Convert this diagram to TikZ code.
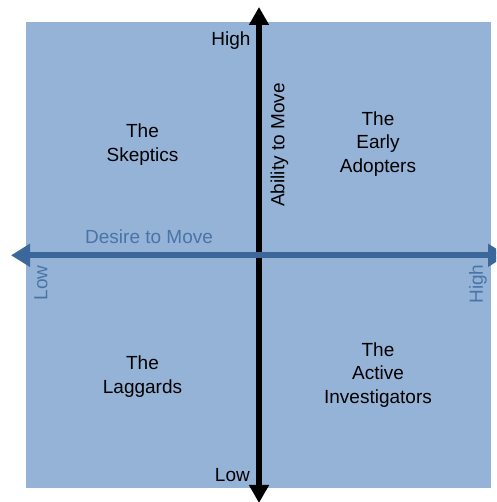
\documentclass[tikz,border=0pt]{standalone}
\usepackage{fontspec}
\setmainfont{Liberation Sans}
\usetikzlibrary{arrows.meta,positioning}
\definecolor{quadfill}{HTML}{95B3D7}
\definecolor{desireblue}{HTML}{3B679B}
\definecolor{desiretext}{HTML}{4A74A8}

\begin{document}
\begin{tikzpicture}[x=1pt, y=1pt, font=\fontsize{19}{23.5}\selectfont,
  every node/.style={align=center,inner sep=0pt},
  ability/.style={line width=6pt, black, {Triangle[length=18pt,width=19pt]}-{Triangle[length=18pt,width=19pt]}},
  desire/.style={line width=6pt, desireblue, {Triangle[length=19pt,width=22pt]}-{Triangle[length=19pt,width=22pt]}},
  axistext/.style={text=desiretext}]
\useasboundingbox (0,0) rectangle (496,502);
\clip (0,0) rectangle (496,502);
\fill[quadfill] (26,14) rectangle (491,480);
% axis ends
\coordinate (abilitylow) at (259,-1);
\coordinate (abilityhigh) at (259,495);
\coordinate (desirelow) at (11,246.7);
\coordinate (desirehigh) at (507,246.7);
\draw[ability] (abilitylow) -- (abilityhigh);
\draw[desire] (desirelow) -- (desirehigh);
% quadrants
\node (skeptics) at (142.5,357.3) {The\\Skeptics};
\node (adopters) at (378,358) {The\\Early\\Adopters};
\node (laggards) at (142.5,125.6) {The\\Laggards};
\node (investigators) at (378,127) {The\\Active\\Investigators};
% axis labels
\node[rotate=90] (ability) at (279.5,357) {Ability to Move};
\node[anchor=base east] (abilityhightext) at (250.7,456.3) {High};
\node[anchor=base east] (abilitylowtext) at (250,20.3) {Low};
\node[axistext, anchor=base west] (desire) at (85,258) {Desire to Move};
\node[axistext, rotate=90] (desirelowtext) at (41,219) {Low};
\node[axistext, rotate=90] (desirehightext) at (478,218) {High};
\end{tikzpicture}
\end{document}
